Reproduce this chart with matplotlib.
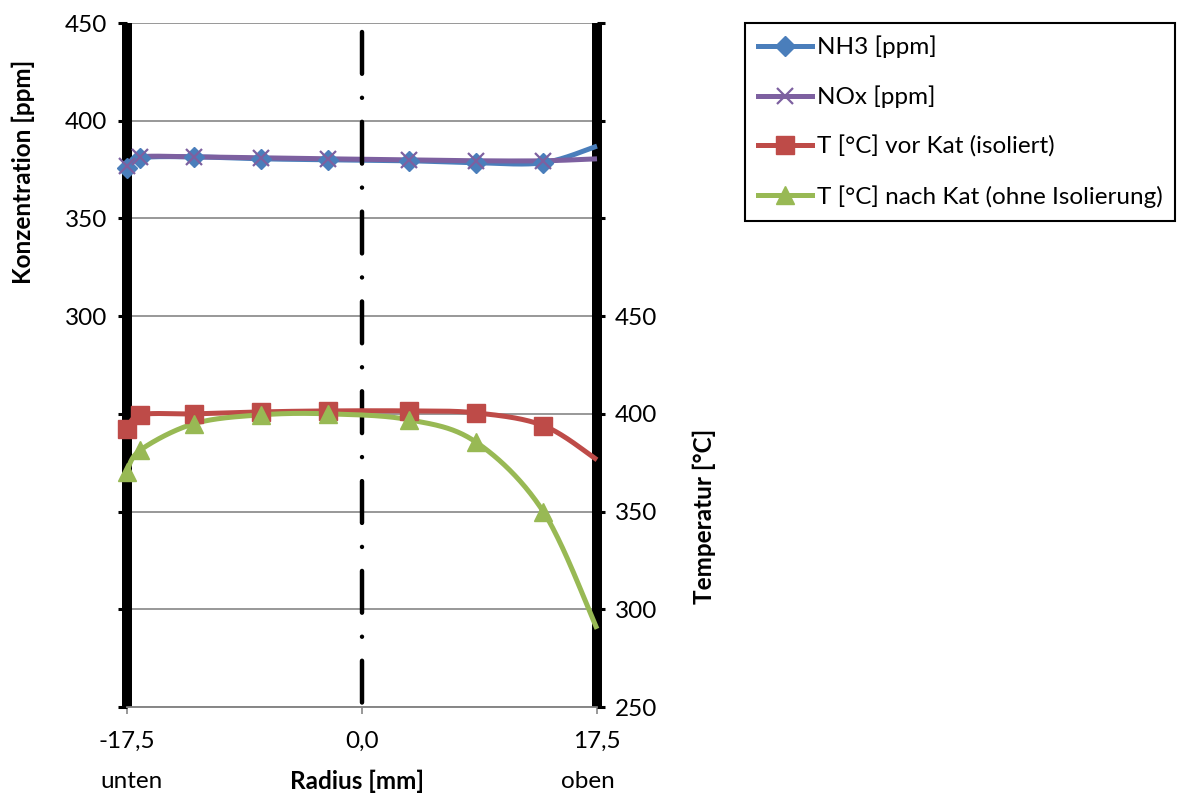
import numpy as np
import matplotlib
matplotlib.use("Agg")
import matplotlib.pyplot as plt
from matplotlib.lines import Line2D

# ---- data -------------------------------------------------------------
radius_mm = [-17.5, -16.5, -12.5, -7.5, -2.5, 3.5, 8.5, 13.5, 17.5]
nh3_ppm = [376, 381, 381.5, 380.5, 380, 379.5, 378.5, 378.5, 387]
nox_ppm = [377, 381.5, 381.5, 381, 380.5, 380, 379.5, 379.5, 380.5]
t_vor_kat = [392, 399.5, 400, 401, 401.5, 401.5, 400.5, 394, 376.5]
t_nach_kat = [370.5, 381.5, 395, 399.5, 400, 397, 385.5, 350, 290]

series_labels = ["NH3 [ppm]", "NOx [ppm]", "T [°C] vor Kat (isoliert)",
                 "T [°C] nach Kat (ohne Isolierung)"]
x_ticks = [-17.5, 0.0, 17.5]
conc_ticks = [100, 150, 200, 250, 300, 350, 400, 450]
conc_labelled = [300, 350, 400, 450]
temp_ticks = [250, 300, 350, 400, 450, 500, 550, 600]
temp_labelled = [250, 300, 350, 400, 450]

# ---- style ------------------------------------------------------------
plt.rcParams['font.family'] = ['Lato', 'DejaVu Sans']
FS = 17.5
GRID = '#868686'
C_NH3 = '#4A7EBB'
C_NOX = '#7D60A0'
C_VOR = '#BE4B48'
C_NACH = '#98B954'

W, H = 1182, 793


def fx(px):
    return px / W


def fy(py):
    return 1 - py / H


def smooth(x, y, n=40):
    """Bezier curve through the points with Catmull-Rom style control points."""
    p = np.column_stack([x, y]).astype(float)
    ext = np.vstack([p[0], p, p[-1]])
    t = np.linspace(0, 1, n)[:, None]
    parts = []
    for i in range(len(p) - 1):
        p0, p1, p2, p3 = ext[i], ext[i + 1], ext[i + 2], ext[i + 3]
        c1 = p1 + (p2 - p0) / 6
        c2 = p2 - (p3 - p1) / 6
        seg = ((1 - t) ** 3) * p1 + 3 * ((1 - t) ** 2) * t * c1 \
            + 3 * (1 - t) * t ** 2 * c2 + t ** 3 * p2
        parts.append(seg if i == 0 else seg[1:])
    s = np.vstack(parts)
    return s[:, 0], s[:, 1]


fig = plt.figure(figsize=(W / 100, H / 100), dpi=100)
ax = fig.add_axes([fx(127), fy(707), (597 - 127) / W, (707 - 23) / H])
ax.set_xlim(-17.5, 17.5)
ax.set_ylim(100, 450)
ax2 = ax.twinx()
ax2.set_ylim(250, 600)

# grid and spines
ax.set_yticks(conc_ticks)
ax.set_yticklabels([str(v) if v in conc_labelled else '' for v in conc_ticks])
ax.yaxis.grid(True, color=GRID, lw=1.2, zorder=0)
ax.set_axisbelow(True)
ax2.set_yticks(temp_ticks)
ax2.set_yticklabels([str(v) if v in temp_labelled else '' for v in temp_ticks])
ax.set_xticks(x_ticks)
ax.set_xticklabels([f"{v:.1f}".replace('.', ',') for v in x_ticks])
for a in (ax, ax2):
    a.spines['top'].set_visible(False)
    a.spines['left'].set_visible(False)
    a.spines['right'].set_visible(False)
    a.spines['bottom'].set_color(GRID)
    a.spines['bottom'].set_linewidth(1.2)
ax.tick_params(axis='y', direction='out', length=6.5, width=2.2, color='black',
               labelsize=FS, pad=7.5)
ax2.tick_params(axis='y', direction='out', length=6, width=2.2, color='black',
                labelsize=FS, pad=7)
ax.tick_params(axis='x', direction='out', length=5, width=1.2, color=GRID,
               labelsize=FS, pad=12)

# thick boundary walls at the tube edges
wall_half = 0.37  # mm, about 10 px wide
for xe in (x_ticks[0], x_ticks[-1]):
    ax.axvspan(xe - wall_half, xe + wall_half, color='black', lw=0,
               zorder=2.6, clip_on=False)

# concentration series
for vals, col, mk, ms, mew in ((nh3_ppm, C_NH3, 'D', 10.5, 1),
                               (nox_ppm, C_NOX, 'x', 12, 1.6)):
    sx, sy = smooth(radius_mm, vals)
    ax.plot(sx, sy, color=col, lw=3.6, solid_capstyle='butt', zorder=3, clip_on=False)
    ax.plot(radius_mm[:-1], vals[:-1], ls='none', marker=mk, ms=ms, color=col,
            mec=col, mew=mew, zorder=4, clip_on=False)

# dash-dot centre line
centre = Line2D([0, 0], [445.5, 100], color='black', lw=3.2,
                dash_capstyle='round', zorder=5,
                linestyle=(0, (9.4, 5.4, 0.01, 5.4)))
ax.add_line(centre)

# temperature series
for vals, col, mk, ms in ((t_vor_kat, C_VOR, 's', 13), (t_nach_kat, C_NACH, '^', 13)):
    sx, sy = smooth(radius_mm, vals)
    ax2.plot(sx, sy, color=col, lw=3.6, solid_capstyle='butt', zorder=3, clip_on=False)
    ax2.plot(radius_mm[:-1], vals[:-1], ls='none', marker=mk, ms=ms, color=col,
             mec=col, zorder=4, clip_on=False)

# axis titles
fig.text(fx(23), fy(172), 'Konzentration [ppm]', rotation=90, ha='center',
         va='center', fontsize=FS, fontweight='bold')
fig.text(fx(704), fy(516), 'Temperatur [°C]', rotation=90, ha='center',
         va='center', fontsize=FS, fontweight='bold')
fig.text(fx(357), fy(781), 'Radius [mm]', ha='center', va='center',
         fontsize=FS, fontweight='bold')
fig.text(fx(131), fy(781), 'unten', ha='center', va='center', fontsize=FS)
fig.text(fx(588), fy(781), 'oben', ha='center', va='center', fontsize=FS)

# legend
handles = [
    Line2D([], [], color=C_NH3, lw=3.6, marker='D', ms=10.5, mec=C_NH3),
    Line2D([], [], color=C_NOX, lw=3.6, marker='x', ms=12, mew=1.6, mec=C_NOX),
    Line2D([], [], color=C_VOR, lw=3.6, marker='s', ms=13, mec=C_VOR),
    Line2D([], [], color=C_NACH, lw=3.6, marker='^', ms=13, mec=C_NACH),
]
leg = fig.legend(handles, series_labels, loc='upper left',
                 bbox_to_anchor=(fx(745), fy(23)), fontsize=FS, frameon=True,
                 fancybox=False, edgecolor='black', framealpha=1,
                 borderpad=0.52, labelspacing=1.13, handlelength=2.25,
                 handletextpad=0.18, borderaxespad=0)
leg.get_frame().set_linewidth(1.5)

fig.savefig('out.png', dpi=100)
